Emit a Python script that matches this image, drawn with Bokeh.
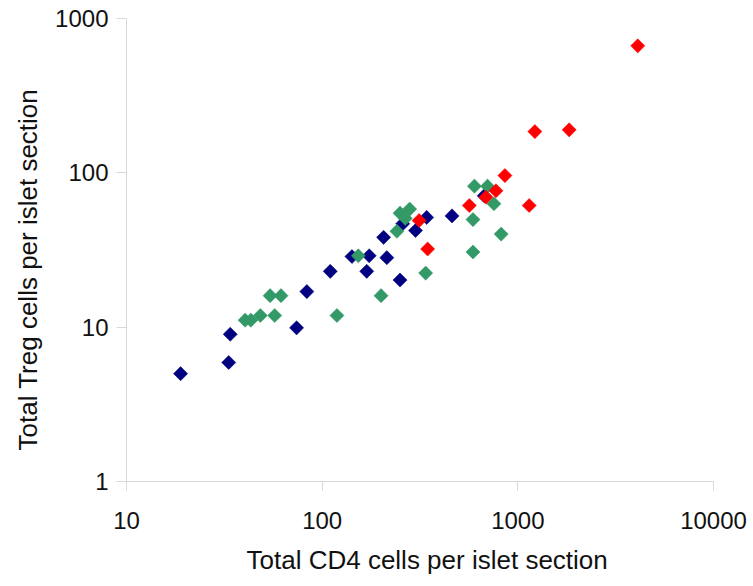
import numpy as np
from bokeh.plotting import figure
from bokeh.models import FixedTicker, Title
from bokeh.embed import file_html
from bokeh.resources import INLINE

# ---- data ----
blue_x = [18.9, 33.3, 33.9, 74, 83.5, 110, 142, 174, 169, 214, 206, 250, 258, 300, 342, 461, 673]
blue_y = [5.0, 5.9, 9.0, 9.9, 17.0, 23.0, 28.7, 29.0, 23.0, 28.2, 38.2, 20.2, 46.8, 42.3, 51.4, 52.6, 71]

green_x = [40.4, 43.2, 48.3, 57.2, 54.2, 61.6, 119, 153, 200, 241, 250, 280, 266, 338, 600, 700, 590, 590, 755, 822]
green_y = [11.1, 11.1, 11.9, 11.9, 16.0, 16.0, 11.9, 29.0, 16.0, 41.8, 54.8, 58.2, 50.7, 22.4, 82.0, 82.0, 49.8, 30.7, 63, 40.1]

red_x = [4100, 1222, 1830, 859, 773, 687, 565, 1143, 313, 346]
red_y = [665, 185, 190, 96, 76.5, 69.5, 61.4, 61.4, 49.1, 32.1]

x_ticks = [10, 100, 1000, 10000]
x_tick_labels = ["10", "100", "1000", "10000"]
y_ticks = [1, 10, 100, 1000]
y_tick_labels = ["1", "10", "100", "1000"]

x_title = "Total CD4 cells per islet section"
y_title = "Total Treg cells per islet section"

FONT = "Liberation Sans"
TXT = "#111111"

p = figure(width=753, height=586, x_axis_type="log", y_axis_type="log",
           x_range=(10, 10000), y_range=(1, 1000),
           output_backend="svg", toolbar_location=None,
           min_border_left=125, min_border_right=40,
           min_border_top=18, min_border_bottom=105)
p.outline_line_color = None
p.grid.visible = False
p.background_fill_color = "white"
p.border_fill_color = "white"

for ax, ticks, labels in ((p.xaxis[0], x_ticks, x_tick_labels), (p.yaxis[0], y_ticks, y_tick_labels)):
    ax.ticker = FixedTicker(ticks=ticks)
    ax.major_label_overrides = {t: l for t, l in zip(ticks, labels)}
    ax.axis_line_color = "#d9d9d9"
    ax.major_tick_line_color = "#d9d9d9"
    ax.minor_tick_line_color = None
    ax.major_tick_in = 0
    ax.major_label_text_font = FONT
    ax.major_label_text_font_size = "24px"
    ax.major_label_text_color = TXT

p.xaxis.major_tick_out = 9
p.xaxis.major_label_standoff = 21
p.yaxis.major_tick_out = 10
p.yaxis.major_label_standoff = 8

def diamonds(xs, ys, color):
    p.scatter(xs, ys, marker="square", size=10, angle=np.pi / 4,
              fill_color=color, line_color=color, line_width=0.5)

diamonds(blue_x, blue_y, "#000080")
diamonds(green_x, green_y, "#339966")
diamonds(red_x, red_y, "#ff0000")

p.add_layout(Title(text=x_title, align="left", offset=120, standoff=22,
                   text_font=FONT, text_font_size="26px", text_font_style="normal",
                   text_color=TXT), "below")
p.add_layout(Title(text=y_title, align="left", offset=31, standoff=20,
                   text_font=FONT, text_font_size="26px", text_font_style="normal",
                   text_color=TXT), "left")

open("out.html", "w").write(file_html(p, INLINE))
